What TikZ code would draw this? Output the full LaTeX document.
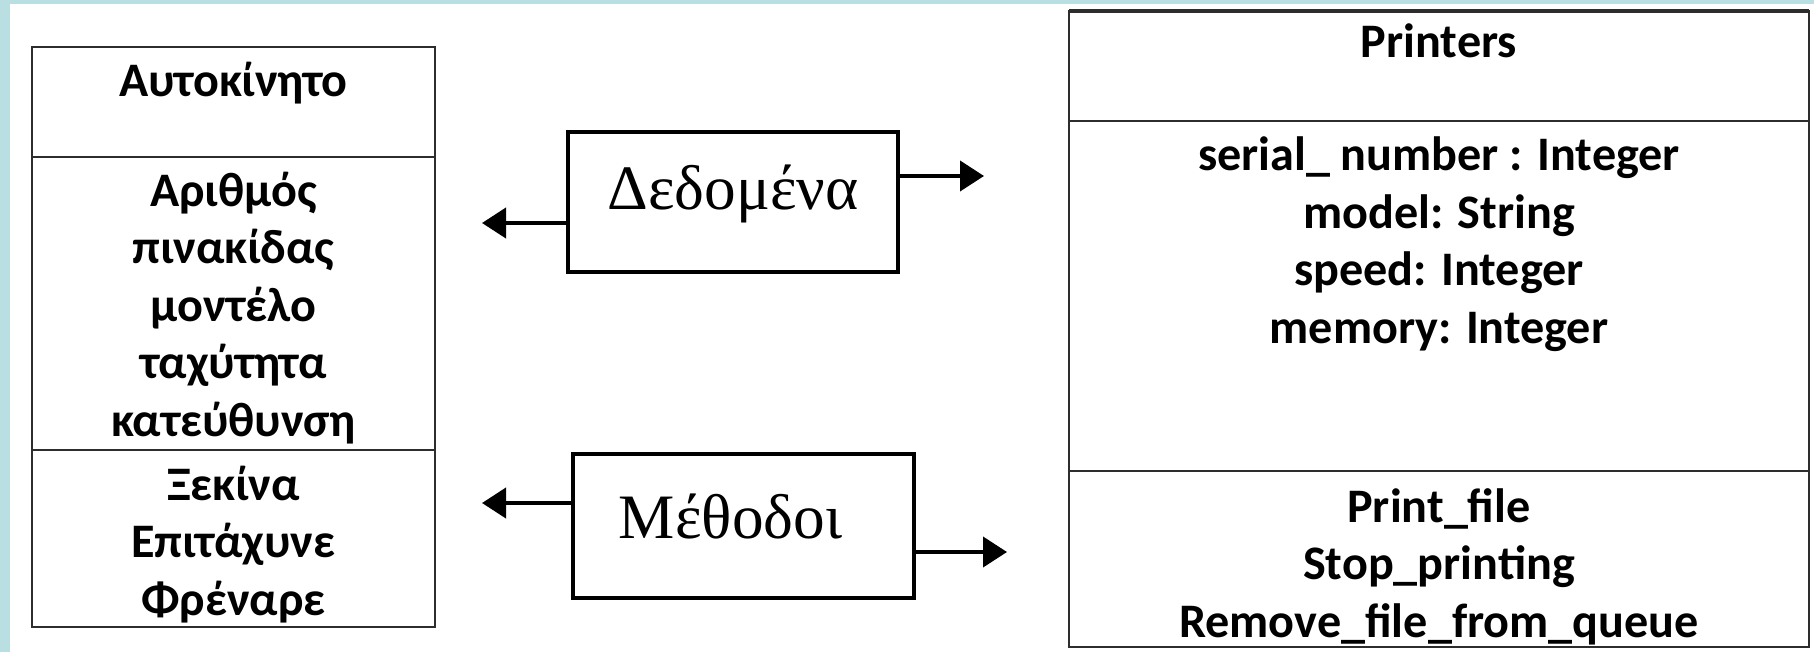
\documentclass[tikz,border=0pt]{standalone}
\usepackage{fontspec}
\setmainfont{Liberation Serif}
\newfontfamily\calibri{Carlito}
\usetikzlibrary{arrows.meta,positioning}
\definecolor{slideblue}{RGB}{186,223,226}
\definecolor{rulegray}{RGB}{45,45,45}

\begin{document}
\begin{tikzpicture}[x=0.1mm, y=-0.1mm, font=\calibri\bfseries\fontsize{13.7}{16.36}\selectfont]
  \tikzset{
    part/.style={draw=rulegray, line width=0.2mm},
    cls/.style={align=center, anchor=base, inner sep=0pt},
    role/.style={draw, line width=0.4mm, inner xsep=0pt, inner ysep=0pt, anchor=base,
      font=\rmfamily\fontsize{18}{22}\selectfont},
    pointer/.style={line width=0.4mm, -{Triangle[length=2.4mm, width=3mm]}}
  }

  % Achtergrond
  \useasboundingbox (0,0) rectangle (1814,652);
  \fill[slideblue] (0,0) rectangle (1814,652);
  \fill[white] (10,4) rectangle (1814,652);

  % Klasse links (anker op de laatste regel)
  \draw[part] (32,47) rectangle (435,627);
  \draw[part] (32,157) -- (435,157);
  \draw[part] (32,450) -- (435,450);
  \node[cls] (carname) at (233.5,97) {Αυτοκίνητο};
  \node[cls] (carattr) at (233.5,436) {Αριθμός\\πινακίδας\\μοντέλο\\ταχύτητα\\κατεύθυνση};
  \node[cls] (carops) at (233.5,615) {Ξεκίνα\\Επιτάχυνε\\Φρέναρε};

  % Klasse rechts
  \draw[part] (1069,11) rectangle (1809,647);
  \draw[part, line width=0.35mm] (1069,11) -- (1809,11);
  \draw[part] (1069,121) -- (1809,121);
  \draw[part] (1069,471) -- (1809,471);
  \node[cls] (prname) at (1439,58) {Printers};
  \node[cls] (prattr) at (1439,343) {serial\_ number : Integer\\model: String\\speed: Integer\\memory: Integer};
  \node[cls] (props) at (1439,637) {Print\_file\\Stop\_printing\\Remove\_file\_from\_queue};

  % Dedomena
  \node[role, minimum width=33mm, text height=7.8mm, text depth=6.2mm] (data) at (733,210) {Δεδομένα};
  \coordinate (dataL) at (482,223);
  \coordinate (dataR) at (984,176);
  \draw[pointer] (data.west |- dataL) -- (dataL);
  \draw[pointer] (data.east |- dataR) -- (dataR);

  % Methodoi
  \node[role, minimum width=34.1mm, text height=8.4mm, text depth=6mm] (meth) at (743.5,538) {Μέθοδοι\hspace*{2.6mm}};
  \coordinate (methL) at (482,503);
  \coordinate (methR) at (1007,552);
  \draw[pointer] (meth.west |- methL) -- (methL);
  \draw[pointer] (meth.east |- methR) -- (methR);
\end{tikzpicture}
\end{document}
